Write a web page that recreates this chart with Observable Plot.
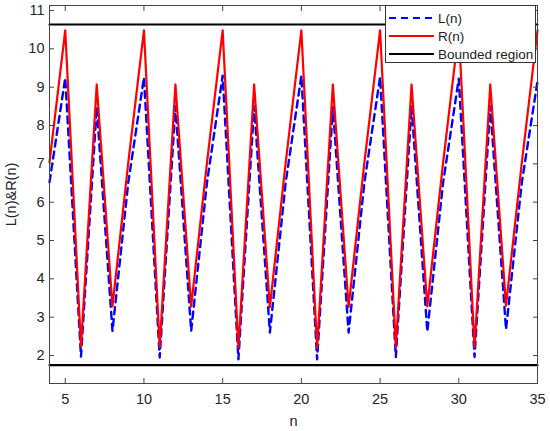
<!DOCTYPE html>
<html>
<head>
<meta charset="utf-8">
<script src="https://cdn.jsdelivr.net/npm/d3@7"></script>
<script src="https://cdn.jsdelivr.net/npm/@observablehq/plot@0.6"></script>
<style>
  body { margin: 0; background: #fff; }
  #wrap { position: relative; width: 550px; height: 431px; font-family: "Liberation Sans", Arial, sans-serif; }
  #legend { position: absolute; left: 385px; top: 5px; width: 151px; height: 58px; background: #fff; border: 1px solid #333; box-sizing: border-box; font-size: 13.5px; color: #222; }
  .row { position: absolute; left: 0; height: 18px; display: flex; align-items: center; }
  .row svg { margin-left: 3px; }
  .row span { margin-left: 4px; }
</style>
</head>
<body>
<div id="wrap"></div>
<script>
const n = [4,5,6,7,8,9,10,11,12,13,14,15,16,17,18,19,20,21,22,23,24,25,26,27,28,29,30,31,32,33,34,35];
const L = [6.52,9.24,1.97,8.48,2.64,6.50,9.25,1.95,8.50,2.64,6.50,9.30,1.90,8.50,2.60,6.50,9.30,1.90,8.48,2.60,6.50,9.26,1.96,8.50,2.62,6.50,9.22,1.96,8.50,2.68,6.50,9.15];
const R = [7.04,10.48,2.24,9.07,3.28,7.02,10.48,2.22,9.07,3.28,7.02,10.48,2.20,9.07,3.26,7.02,10.48,2.20,9.07,3.26,7.02,10.48,2.22,9.07,3.28,7.02,10.48,2.22,9.07,3.30,7.02,10.48];
const boundUpper = 10.635;
const boundLower = 1.75;
const xTicks = [5,10,15,20,25,30,35];
const yTicks = [2,3,4,5,6,7,8,9,10,11];
const seriesNames = ["L(n)", "R(n)", "Bounded region"];
const seriesColors = ["#0000ff", "#ff0000", "#000000"];

const rowsL = n.map((v, i) => ({n: v, y: L[i]}));
const rowsR = n.map((v, i) => ({n: v, y: R[i]}));
const bounds = [boundUpper, boundLower].map(b => [{n: n[0], y: b}, {n: n[n.length - 1], y: b}]);

const axisColor = "#444";

const chart = Plot.plot({
  width: 550,
  height: 431,
  marginLeft: 49,
  marginRight: 13,
  marginTop: 5,
  marginBottom: 48,
  style: {fontFamily: "'Liberation Sans', Arial, sans-serif", fontSize: "14.5px", color: "#262626", background: "#fff"},
  x: {domain: [4, 35]},
  y: {domain: [1.27, 11.13]},
  marks: [
    Plot.line(rowsL, {x: "n", y: "y", stroke: seriesColors[0], strokeWidth: 2.4, strokeDasharray: "7,5"}),
    Plot.line(rowsR, {x: "n", y: "y", stroke: seriesColors[1], strokeWidth: 2.2}),
    ...bounds.map(b => Plot.line(b, {x: "n", y: "y", stroke: seriesColors[2], strokeWidth: 2.2})),
    Plot.frame({stroke: axisColor, strokeWidth: 1}),
    Plot.axisX(xTicks, {anchor: "bottom", tickSize: 0, tickPadding: 10, label: "n", labelAnchor: "center", labelOffset: 42, labelArrow: "none", fill: "#262626"}),
    Plot.axisX(xTicks, {anchor: "bottom", tickSize: -5, tickFormat: () => "", label: null, stroke: axisColor}),
    Plot.axisX(xTicks, {anchor: "top", tickSize: -5, tickFormat: () => "", label: null, stroke: axisColor}),
    Plot.axisY(yTicks, {anchor: "left", tickSize: 0, tickPadding: 5, label: "L(n)&R(n)", labelAnchor: "center", labelOffset: 44, labelArrow: "none", fill: "#262626"}),
    Plot.axisY(yTicks, {anchor: "left", tickSize: -5, tickFormat: () => "", label: null, stroke: axisColor}),
    Plot.axisY(yTicks, {anchor: "right", tickSize: -5, tickFormat: () => "", label: null, stroke: axisColor})
  ]
});

const wrap = document.getElementById("wrap");
wrap.appendChild(chart);

const legend = document.createElement("div");
legend.id = "legend";
const rowTops = [3, 21, 39];
seriesNames.forEach((name, i) => {
  const row = document.createElement("div");
  row.className = "row";
  row.style.top = rowTops[i] + "px";
  const dash = i === 0 ? ' stroke-dasharray="7,5"' : '';
  row.innerHTML = `<svg width="45" height="10"><line x1="0" x2="45" y1="5" y2="5" stroke="${seriesColors[i]}" stroke-width="2.2"${dash}/></svg><span>${name}</span>`;
  legend.appendChild(row);
});
wrap.appendChild(legend);
</script>
</body>
</html>
